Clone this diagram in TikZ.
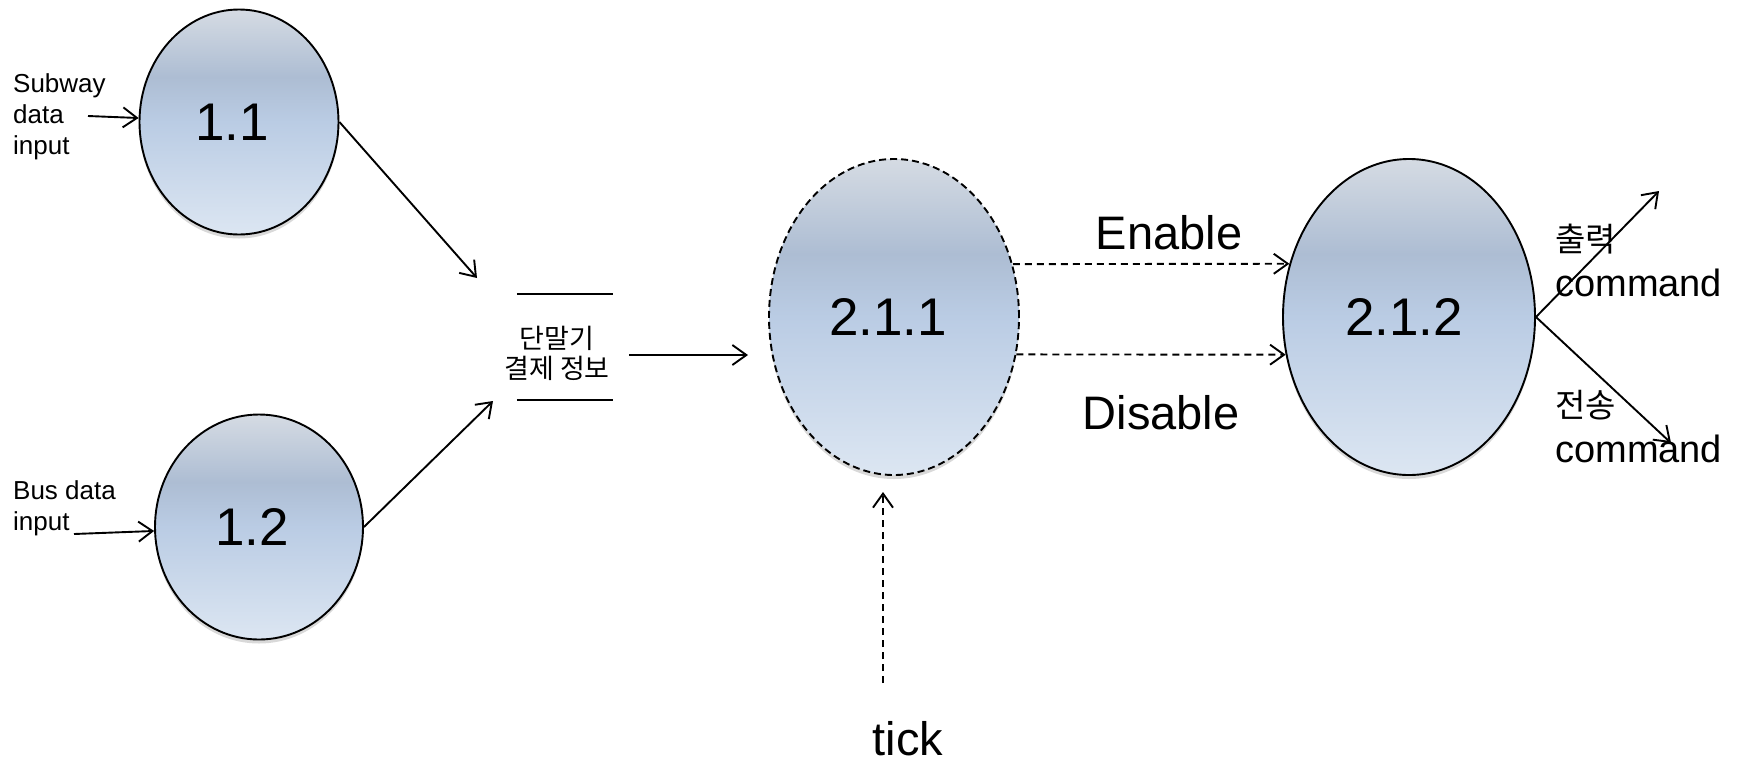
\documentclass[tikz,border=0pt]{standalone}
\usepackage{fontspec}
\setmainfont{Liberation Sans}
\newfontfamily\kr{Noto Sans CJK KR}
\usetikzlibrary{arrows.meta,shadows,shapes.geometric}
\definecolor{btop}{HTML}{D5DBE3}
\definecolor{bdark}{HTML}{ADBDD3}
\definecolor{bmid}{HTML}{BACCE4}
\definecolor{bbot}{HTML}{DCE6F2}
\pgfdeclareverticalshading{bubble}{100bp}{color(0bp)=(bbot); color(25bp)=(bbot); color(50bp)=(bmid); color(60bp)=(bdark); color(75bp)=(btop); color(100bp)=(btop)}
\begin{document}
\begin{tikzpicture}[x=1pt,y=-1pt,
  proc/.style={ellipse, draw=black, line width=1.9pt, inner sep=0pt, shading=bubble,
    font=\fontsize{53}{60}\selectfont,
    drop shadow={shadow xshift=0pt, shadow yshift=-4pt, opacity=0.15, fill=black}},
  arr/.style={line width=1.9pt, -{Straight Barb[length=14pt,width=20pt,line width=1.9pt]}},
  darr/.style={arr, dash pattern=on 7pt off 5pt},
  small/.style={inner sep=0pt, align=left, font=\fontsize{26}{31}\selectfont},
  big/.style={inner sep=0pt, font=\fontsize{47}{52}\selectfont},
  outl/.style={inner sep=0pt, align=left, anchor=north west, font=\fontsize{38}{45}\selectfont},
  store/.style={inner sep=0pt, minimum width=96pt, minimum height=106pt}
]
\useasboundingbox (0,0) rectangle (1742,764);

% processes
\node[proc, minimum width=199pt, minimum height=225pt] (n11) at (239,122) {\hspace*{-14pt}1.1};
\node[proc, minimum width=208pt, minimum height=225pt] (n12) at (259,527) {\hspace*{-14pt}1.2};
\node[proc, dash pattern=on 7pt off 4pt, minimum width=250pt, minimum height=316pt] (n211) at (894,317) {\hspace*{-12pt}2.1.1};
\node[proc, minimum width=252pt, minimum height=316pt] (n212) at (1409,317) {\hspace*{-10pt}2.1.2};

% inputs
\node[small, anchor=west] (sub) at (13,117) {Subway\\data\\input};
\node[small, anchor=west] (bus) at (13,508) {Bus data\\input};
\coordinate (subS) at (88,116);
\coordinate (busS) at (74,534);
\draw[arr] (subS) -- (n11);
\draw[arr] (busS) -- (n12);

% data store
\node[store] (st) at (565,347) {};
\draw[line width=1.9pt] (st.north west) -- (st.north east);
\draw[line width=1.9pt] (st.south west) -- (st.south east);
\node[inner sep=0pt, align=center, font=\kr\fontsize{27}{30}\selectfont] (sttxt) at (557,353) {단말기\\결제 정보};

\coordinate (in1) at (477,278);
\coordinate (in2) at (493,401);
\draw[arr] (n11.east) -- (in1);
\draw[arr] (n12.east) -- (in2);
\coordinate (stS) at (629,355);
\coordinate (stE) at (748,355);
\draw[arr] (stS) -- (stE);

% control flows
\draw[darr] (n211.24) -- (n212.156);
\draw[darr] (n211.-17) -- (n212.197);
\node[big] (en) at (1169,233) {Enable};
\node[big] (dis) at (1161,413) {Disable};

\coordinate (tickS) at (883,683);
\coordinate (tickE) at (883,492);
\draw[darr] (tickS) -- (tickE);
\node[big] (tick) at (908,739) {tick};

% outputs
\coordinate (o1) at (1659,191);
\coordinate (o2) at (1671,443);
\draw[arr] (n212.east) -- (o1);
\draw[arr] (n212.east) -- (o2);
\node[outl] (l1) at (1555,224) {{\kr\fontsize{33}{45}\selectfont 출력}\\command};
\node[outl] (l2) at (1555,390) {{\kr\fontsize{33}{45}\selectfont 전송}\\command};
\end{tikzpicture}
\end{document}
